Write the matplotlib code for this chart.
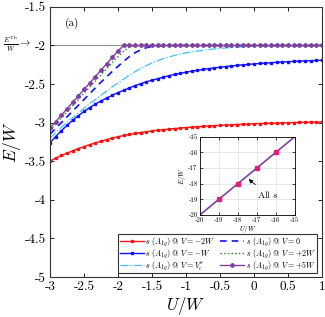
import numpy as np
import matplotlib
matplotlib.use("Agg")
import matplotlib.pyplot as plt

plt.rcParams['font.family'] = 'cmr10'
plt.rcParams['mathtext.fontset'] = 'cm'
plt.rcParams['axes.unicode_minus'] = False

U = np.linspace(-3.0, 1.0, 49)

E_red = [-3.50, -3.46, -3.425, -3.395, -3.365, -3.335, -3.31, -3.285, -3.262, -3.24,
         -3.22, -3.20, -3.182, -3.166, -3.152, -3.14, -3.128, -3.117, -3.107, -3.098,
         -3.09, -3.083, -3.076, -3.07, -3.064, -3.058, -3.053, -3.048, -3.043, -3.039,
         -3.035, -3.031, -3.027, -3.024, -3.021, -3.018, -3.015, -3.012, -3.01, -3.007,
         -3.005, -3.003, -3.001, -2.999, -2.997, -2.995, -2.993, -2.992, -2.99]
E_blue = [-3.26, -3.18, -3.105, -3.035, -2.97, -2.91, -2.855, -2.805, -2.76, -2.72,
          -2.68, -2.645, -2.61, -2.58, -2.55, -2.52, -2.495, -2.47, -2.45, -2.43,
          -2.41, -2.392, -2.375, -2.36, -2.346, -2.333, -2.321, -2.31, -2.30, -2.29,
          -2.281, -2.273, -2.265, -2.258, -2.251, -2.245, -2.239, -2.233, -2.228, -2.223,
          -2.218, -2.214, -2.21, -2.206, -2.203, -2.20, -2.197, -2.194, -2.192]
E_cyan = [-3.20, -3.13, -3.06, -2.995, -2.935, -2.875, -2.815, -2.755, -2.70, -2.645,
          -2.59, -2.535, -2.485, -2.435, -2.385, -2.34, -2.298, -2.26, -2.226, -2.196,
          -2.17, -2.148, -2.128, -2.111, -2.096, -2.083, -2.072, -2.062, -2.053, -2.045,
          -2.038, -2.032, -2.027, -2.022, -2.018, -2.015, -2.012, -2.01, -2.008, -2.006,
          -2.005, -2.004, -2.003, -2.002, -2.002, -2.001, -2.001, -2.0, -2.0]
E_dash = [-3.15, -3.075, -3.0, -2.925, -2.85, -2.775, -2.70, -2.625, -2.55, -2.475,
          -2.405, -2.335, -2.27, -2.205, -2.145, -2.095, -2.055, -2.028, -2.012, -2.005,
          -2.002, -2.0, -2.0, -2.0, -2.0, -2.0, -2.0, -2.0, -2.0, -2.0,
          -2.0, -2.0, -2.0, -2.0, -2.0, -2.0, -2.0, -2.0, -2.0, -2.0,
          -2.0, -2.0, -2.0, -2.0, -2.0, -2.0, -2.0, -2.0, -2.0]
E_green = [-3.10, -3.02, -2.94, -2.86, -2.78, -2.70, -2.62, -2.54, -2.46, -2.38,
           -2.30, -2.22, -2.145, -2.075, -2.02, -2.003, -2.0, -2.0, -2.0, -2.0,
           -2.0, -2.0, -2.0, -2.0, -2.0, -2.0, -2.0, -2.0, -2.0, -2.0,
           -2.0, -2.0, -2.0, -2.0, -2.0, -2.0, -2.0, -2.0, -2.0, -2.0,
           -2.0, -2.0, -2.0, -2.0, -2.0, -2.0, -2.0, -2.0, -2.0]
E_purple = [-3.07, -2.987, -2.903, -2.82, -2.737, -2.653, -2.57, -2.487, -2.403, -2.32,
            -2.237, -2.153, -2.07, -2.0, -2.0, -2.0, -2.0, -2.0, -2.0, -2.0,
            -2.0, -2.0, -2.0, -2.0, -2.0, -2.0, -2.0, -2.0, -2.0, -2.0,
            -2.0, -2.0, -2.0, -2.0, -2.0, -2.0, -2.0, -2.0, -2.0, -2.0,
            -2.0, -2.0, -2.0, -2.0, -2.0, -2.0, -2.0, -2.0, -2.0]

E_threshold = -2.0

inset_U = [-20, -15]
inset_E = [-20, -15]
inset_mark_U = [-19, -18, -17, -16]
inset_mark_E = [-19, -18, -17, -16]

labels = [r'$s\ (A_{1g})\ @\ V=-2W$', r'$s\ (A_{1g})\ @\ V=-W$', r'$s\ (A_{1g})\ @\ V=V_c^s$',
          r'$s\ (A_{1g})\ @\ V=0$', r'$s\ (A_{1g})\ @\ V=+2W$', r'$s\ (A_{1g})\ @\ V=+5W$']

xticks = [-3, -2.5, -2, -1.5, -1, -0.5, 0, 0.5, 1]
xticklabels = ['-3', '-2.5', '-2', '-1.5', '-1', '-0.5', '0', '0.5', '1']
yticks = [-5, -4.5, -4, -3.5, -3, -2.5, -2, -1.5]
yticklabels = ['-5', '-4.5', '-4', '-3.5', '-3', '-2.5', '-2', '-1.5']
iticks = [-20, -19, -18, -17, -16, -15]
iticklabels = ['-20', '-19', '-18', '-17', '-16', '-15']

fig = plt.figure(figsize=(3.25, 3.17), dpi=100)
ax = fig.add_axes([0.1538, 0.1262, 0.837, 0.852])

ax.axhline(E_threshold, color='#909090', lw=0.8, zorder=1)
h1, = ax.plot(U, E_red, color='#ff1010', lw=1.0, marker='s', ms=2.0, label=labels[0])
h2, = ax.plot(U, E_blue, color='#1010ff', lw=1.0, marker='s', ms=1.5, label=labels[1])
h3, = ax.plot(U, E_cyan, color='#40c0ff', lw=0.9, ls='-.', label=labels[2])
h4, = ax.plot(U, E_dash, color='#1010ff', lw=1.2, ls=(0, (4, 3)), label=labels[3])
h5, = ax.plot(U, E_green, color='#109010', lw=1.0, ls=':', label=labels[4])
h6, = ax.plot(U, E_purple, color='#8040a0', lw=1.0, marker='P', ms=2.6, label=labels[5])

ax.set_xlim(-3, 1)
ax.set_ylim(-5, -1.5)
ax.set_xticks(xticks)
ax.set_xticklabels(xticklabels)
ax.set_yticks(yticks)
ax.set_yticklabels(yticklabels)
ax.tick_params(direction='in', top=True, right=True, labelsize=9.5, length=3, width=0.6, pad=3)
for s in ax.spines.values():
    s.set_linewidth(0.8)
    s.set_color('#333333')
ax.set_xlabel(r'$U/W$', fontsize=12, labelpad=1)
ax.set_ylabel(r'$E/W$', fontsize=12.5, labelpad=1)
ax.text(-2.78, -1.71, '(a)', fontsize=8, va='center', ha='left')

fig.text(0.008, 1 - 44.3 / 317, r'$\frac{E^{\mathrm{Th}}}{W}\rightarrow$', fontsize=7.5, va='center', ha='left')

leg = ax.legend(handles=[h1, h2, h3, h4, h5, h6], ncol=2, fontsize=5.8,
                loc='lower right', bbox_to_anchor=(0.975, 0.138), bbox_transform=fig.transFigure,
                frameon=True, fancybox=False, edgecolor='black', handlelength=3.0,
                handleheight=0.5, handletextpad=0.2, columnspacing=0.6, borderpad=0.15,
                labelspacing=-0.1, borderaxespad=0)
leg.get_frame().set_linewidth(0.8)

ins = fig.add_axes([0.615, 0.322, 0.292, 0.2467])
ins.grid(True, color='#e0e0e0', lw=0.5)
ins.plot(inset_U, inset_E, color='#8040a0', lw=1.2, zorder=2)
ins.plot(inset_mark_U, inset_mark_E, ls='none', marker='s', ms=3.5, color='#e0207a', zorder=3)
ins.set_xlim(-20, -15)
ins.set_ylim(-20, -15)
ins.set_xticks(iticks)
ins.set_xticklabels(iticklabels)
ins.set_yticks(iticks)
ins.set_yticklabels(iticklabels)
ins.tick_params(direction='in', labelsize=5, length=2, width=0.5, pad=1.5, top=True, right=True)
for s in ins.spines.values():
    s.set_linewidth(0.6)
ins.set_xlabel(r'$U/W$', fontsize=5, labelpad=0.5)
ins.set_ylabel(r'$E/W$', fontsize=5, labelpad=0.5)
ins.annotate(r'All $s$', xy=(-17.55, -17.6), xytext=(-17.0, -18.7), fontsize=7,
             ha='left', va='center',
             arrowprops=dict(arrowstyle='-|>', color='black', lw=0.6, mutation_scale=6))

fig.savefig('out.png', dpi=100)
